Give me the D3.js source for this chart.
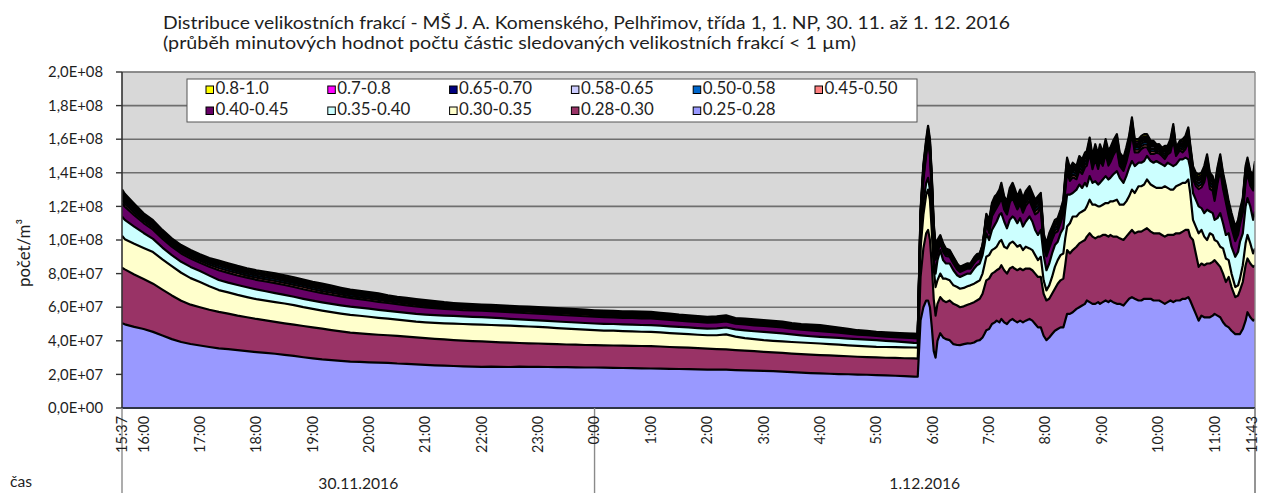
<!DOCTYPE html>
<html>
<head>
<meta charset="utf-8">
<script src="https://cdn.jsdelivr.net/npm/d3@7"></script>
<style>
  html, body { margin: 0; padding: 0; background: #ffffff; }
  svg { display: block; font-family: Lato, "Open Sans", "DejaVu Sans", sans-serif; }
</style>
</head>
<body>
<svg id="chart" width="1261" height="493"></svg>
<script>
// Measurement times (10-minute steps overnight, denser sampling in the morning)
const times = [
  "15:37","15:40","15:50",
  "16:00","16:10","16:20","16:30","16:40","16:50",
  "17:00","17:10","17:20","17:30","17:40","17:50",
  "18:00","18:10","18:20","18:30","18:40","18:50",
  "19:00","19:10","19:20","19:30","19:40","19:50",
  "20:00","20:10","20:20","20:30","20:40","20:50",
  "21:00","21:10","21:20","21:30","21:40","21:50",
  "22:00","22:10","22:20","22:30","22:40","22:50",
  "23:00","23:10","23:20","23:30","23:40","23:50",
  "0:00","0:10","0:20","0:30","0:40","0:50",
  "1:00","1:10","1:20","1:30","1:40","1:50",
  "2:00","2:10","2:20","2:30","2:40","2:50",
  "3:00","3:10","3:20","3:30","3:40","3:50",
  "4:00","4:10","4:20","4:30","4:40","4:50",
  "5:00","5:10","5:20","5:30","5:40",
  "5:44","5:47","5:50","5:53","5:55","5:57","5:59","6:01","6:03","6:05",
  "6:08","6:11","6:14","6:18","6:22","6:26","6:29","6:33","6:37","6:40",
  "6:44","6:47","6:50","6:53","6:55","6:57","7:00","7:03","7:06","7:08",
  "7:11","7:13","7:16","7:19","7:22","7:25","7:27","7:30","7:33","7:36",
  "7:39","7:43","7:46","7:49","7:52","7:55","7:58","8:01","8:04","8:07",
  "8:10","8:13","8:16","8:19","8:21","8:23","8:26","8:29","8:33","8:36",
  "8:39","8:42","8:44","8:47","8:50","8:53","8:56","8:58","9:01","9:04",
  "9:07","9:09","9:12","9:16","9:19","9:23","9:26","9:29","9:32","9:35",
  "9:39","9:42","9:45","9:48","9:52","9:55","9:58","10:01","10:04","10:07",
  "10:10","10:13","10:16","10:19","10:23","10:26","10:29","10:32","10:34","10:37",
  "10:40","10:43","10:46","10:49","10:52","10:55","10:58","11:00","11:03","11:06",
  "11:09","11:12","11:15","11:18","11:22","11:25","11:27","11:30","11:33","11:35",
  "11:38","11:41","11:43"
];

// Particle counts per size fraction, in millions per m³
const f_025_028 = [
  50.5,49.8,48.3,47.0,45.3,43.2,41.0,39.3,38.1,37.2,
  36.3,35.5,35.0,34.4,33.8,33.3,32.8,32.3,31.6,31.0,
  30.2,29.5,28.9,28.5,28.0,27.6,27.4,27.2,27.0,26.9,
  26.5,26.3,26.0,25.7,25.4,25.2,25.0,24.8,24.6,24.5,
  24.6,24.5,24.4,24.6,24.5,24.5,24.4,24.3,24.3,24.2,
  24.1,24.1,24.0,23.9,23.8,23.7,23.6,23.5,23.4,23.3,
  23.2,23.1,23.0,22.9,22.8,22.8,22.6,22.4,22.3,22.1,
  21.9,21.6,21.3,21.0,20.8,20.6,20.4,20.2,20.1,19.9,
  19.8,19.6,19.4,19.2,19.0,18.7,
  18.6,52,60,64,64,60,48,34,30,40,
  44.5,42,41,40.4,38,37.5,37.4,38,38.5,38.4,
  39,40,40.4,42,44,46.3,47,50,51,52,
  51,53,51,50,52,53,52,51,52,51,
  52,53,52,50,48,48,43,40.4,42,44,
  46,47,48,48,52,56,56,57,59,60,
  61,62,64,63,62,62,63,62,63,64,
  63,64,63,62,62,61,63,65,66,65,
  64,64,65,65,65,64,64,64,63,62,
  63,64,63,64,64,65,65,66,64,60,
  56,52,55,54,54,54,55,56,55,54,
  51,49,48,46,44,44,44,47,52,57,
  54,52,53
];
const f_028_030 = [
  33.0,32.7,31.2,29.8,28.7,27.3,26.0,24.5,23.4,22.8,
  22.2,21.7,21.2,20.6,20.2,19.7,19.4,19.0,18.8,18.6,
  18.6,18.5,18.3,17.9,17.6,17.3,17.0,16.8,16.6,16.4,
  16.4,16.2,16.0,15.9,15.8,15.6,15.4,15.3,15.2,15.1,
  14.8,14.6,14.5,14.1,14.0,13.9,13.8,13.7,13.5,13.5,
  13.4,13.3,13.3,13.3,13.3,13.3,13.3,13.3,13.2,13.0,
  12.9,12.8,12.6,12.5,12.3,12.1,11.9,11.7,11.5,11.3,
  11.2,11.2,11.1,11.1,11.0,10.9,10.9,10.8,10.7,10.6,
  10.5,10.5,10.5,10.6,10.6,10.8,
  10.8,26,35,40,42,40,37,31,25,22,
  21.5,22,22,23.6,24,23.5,22.6,22.5,23,23.7,
  24,24,24.6,26,28,29.7,30,30,30,30,
  32,32,31,30,31,31,31,31,31,31,
  31,30,30,30,30,30,25,23.6,23,24,
  25,27,28,29,33,38,36,37,37,38,
  38,38,38,41,40,39,39,40,40,39,
  39,39,39,40,39,39,39,39,40,39,
  41,41,41,42,40,40,40,40,40,40,
  40,39,40,40,40,40,41,40,38,40,
  36,32,31,31,32,32,32,32,31,30,
  29,26,30,26,22,23,26,28,33,32,
  32,32,32
];
const f_030_035 = [
  19.0,18.0,18.3,18.5,18.8,18.0,17.5,16.7,15.8,15.0,
  14.0,13.0,12.6,12.3,12.0,11.8,11.7,11.7,11.8,11.6,
  11.2,11.0,10.8,10.7,10.6,10.5,10.5,10.3,10.1,9.9,
  9.7,9.5,9.4,9.4,9.5,9.6,9.8,9.9,10.0,10.0,
  10.0,10.1,10.1,10.0,10.0,9.9,9.8,9.6,9.5,9.3,
  9.1,8.9,8.8,8.8,8.7,8.6,8.5,8.5,8.4,8.3,
  8.2,8.1,8.0,7.9,8.2,8.9,8.0,7.5,7.2,7.0,
  6.9,6.9,6.9,6.9,6.9,6.9,6.7,6.7,6.5,6.5,
  6.4,6.3,6.4,6.4,6.5,6.5,
  6.5,17,20,23,24,24,20,18,17,14,
  14,13,14,12,11,11,11,11,11,10.9,
  11,11,11,12,13,14,14,14,14,14,
  16,15,14,15,15,15,15,14,14,12,
  13,12,12,11,10,12,8,6,8,10,
  13,14,15,15,16,14,18,20,18,18,
  18,18,18,20,19,20,18,18,18,19,
  20,20,21,22,20,21,21,22,24,24,
  27,27,27,29,28,28,27,27,28,30,
  28,27,27,28,29,29,28,30,26,12,
  16,20,20,17,14,18,16,12,13,12,
  15,14,10,8,6,6,7,10,13,14,
  12,8,10
];
const f_035_040 = [
  11.5,11.5,10.2,8.9,7.9,7.0,6.5,6.5,6.7,6.5,
  6.3,6.0,5.8,5.9,5.9,5.8,5.6,5.4,5.1,5.0,
  5.0,4.9,4.9,4.9,4.9,4.9,4.8,4.8,4.7,4.6,
  4.6,4.6,4.6,4.6,4.6,4.6,4.6,4.5,4.5,4.5,
  4.4,4.3,4.1,4.1,4.0,3.9,3.9,3.9,3.9,3.9,
  4.0,4.0,4.0,4.0,4.0,4.0,4.0,4.0,4.0,4.0,
  4.0,4.0,4.0,4.0,4.1,4.1,4.3,4.6,4.7,4.9,
  4.9,4.7,4.5,4.2,4.0,3.9,4.0,4.0,4.0,4.0,
  4.0,4.0,3.7,3.4,3.1,2.8,
  2.8,5,7,7,7,6,7,7,8,12,
  14,11,9,10,9,7,7,7.5,7.5,6.9,
  9,10,10,11,12,14,9,12,14,15,
  16,16,15,12,14,15,15,14,16,14,
  15,19,17,15,15,16,15,12,13,14,
  13,11,13,15,17,19,17,14,16,17,
  14,16,12,14,13,14,13,14,15,16,
  14,14,16,17,16,13,15,17,17,16,
  14,14,14,14,14,14,16,15,14,12,
  15,15,14,13,15,14,15,12,15,16,
  16,16,13,14,18,13,13,12,14,20,
  15,14,16,16,18,20,22,19,22,22,
  22,20,22
];
const f_040_045 = [
  8.0,7.8,6.8,5.9,5.5,5.3,5.0,5.0,5.0,5.0,
  5.3,5.8,5.8,5.7,5.7,5.7,5.8,5.9,5.9,5.8,
  5.7,5.6,5.5,5.4,5.3,5.2,5.1,4.9,4.8,4.7,
  4.6,4.5,4.4,4.3,4.2,4.0,3.9,3.8,3.8,3.8,
  3.8,3.8,3.9,3.9,3.9,4.0,4.0,4.0,4.0,4.0,
  4.0,4.0,4.0,3.9,3.9,4.0,4.0,4.0,3.9,3.8,
  3.7,3.6,3.6,3.5,3.5,3.6,3.4,3.5,3.5,3.5,
  3.5,3.5,3.4,3.4,3.5,3.5,3.3,3.1,2.9,2.7,
  2.6,2.5,2.5,2.6,2.7,2.8,
  2.8,9.3,13.5,16.5,21.5,20.5,16.5,11.3,8.3,4.2,
  4.5,5.0,4.5,4.0,4.0,3.5,3.0,3.0,3.0,3.0,
  3.3,3.3,3.0,3.0,4.5,5.8,4.2,8.2,8.3,8.2,
  7.2,9.3,7.2,8.2,10.3,11.3,9.3,8.2,8.3,8.3,
  9.3,9.3,8.3,9.3,13.5,13.3,5.2,8.2,9.3,8.2,
  7.2,6.2,6.2,8.3,11.3,13.3,8.2,9.3,6.2,8.3,
  8.3,9.3,12.3,13.5,8.2,13.3,9.3,13.5,8.2,13.3,
  8.3,9.3,11.3,13.3,7.2,7.2,8.3,10.3,16.5,8.2,
  6.2,8.2,8.2,5.2,4.2,5.2,5.0,5.5,5.0,4.2,
  5.0,7.2,15.5,5.0,5.5,4.2,5.2,10.3,6.2,8.2,
  8.2,10.3,12.3,18.5,23.5,13.5,13.3,11.3,20.5,25.5,
  20.5,19.5,10.3,11.3,9.3,10.3,10.3,12.3,14.5,14.5,
  12.3,17.5,20.5
];
const f_045_050 = [
  1.8,1.7,1.5,1.3,1.2,1.2,1.1,1.1,1.1,1.1,
  1.2,1.3,1.3,1.3,1.2,1.3,1.3,1.3,1.3,1.3,
  1.3,1.2,1.2,1.2,1.2,1.1,1.1,1.1,1.1,1.0,
  1.0,1.0,1.0,0.9,0.9,0.9,0.8,0.8,0.8,0.8,
  0.8,0.8,0.8,0.8,0.9,0.9,0.9,0.9,0.9,0.9,
  0.9,0.9,0.9,0.9,0.9,0.9,0.9,0.9,0.8,0.8,
  0.8,0.8,0.8,0.8,0.8,0.8,0.7,0.8,0.8,0.8,
  0.8,0.8,0.7,0.7,0.8,0.8,0.7,0.7,0.6,0.6,
  0.6,0.5,0.5,0.6,0.6,0.6,
  0.6,1.8,2.0,2.0,2.0,2.0,2.0,1.8,1.8,1.6,
  1.0,1.1,1.0,0.9,0.9,0.8,0.7,0.7,0.7,0.7,
  0.7,0.7,0.7,0.7,1.0,1.3,1.6,1.6,1.8,1.6,
  1.6,1.8,1.6,1.6,1.8,1.8,1.8,1.6,1.8,1.8,
  1.8,1.8,1.8,1.8,2.0,1.8,1.6,1.6,1.8,1.6,
  1.6,1.6,1.6,1.8,1.8,1.8,1.6,1.8,1.6,1.8,
  1.8,1.8,1.8,2.0,1.6,1.8,1.8,2.0,1.6,1.8,
  1.8,1.8,1.8,1.8,1.6,1.6,1.8,1.8,2.0,1.6,
  1.6,1.6,1.6,1.6,1.6,1.6,1.1,1.2,1.1,1.6,
  1.1,1.6,2.0,1.1,1.2,1.6,1.6,1.8,1.6,1.6,
  1.6,1.8,1.8,2.0,2.0,2.0,1.8,1.8,2.0,2.0,
  2.0,2.0,1.8,1.8,1.8,1.8,1.8,1.8,2.0,2.0,
  1.8,2.0,2.0
];
const f_050_058 = [
  1.6,1.6,1.4,1.2,1.1,1.1,1.0,1.0,1.0,1.0,
  1.1,1.2,1.2,1.1,1.1,1.1,1.2,1.2,1.2,1.2,
  1.1,1.1,1.1,1.1,1.1,1.0,1.0,1.0,1.0,0.9,
  0.9,0.9,0.9,0.9,0.8,0.8,0.8,0.8,0.8,0.8,
  0.8,0.8,0.8,0.8,0.8,0.8,0.8,0.8,0.8,0.8,
  0.8,0.8,0.8,0.8,0.8,0.8,0.8,0.8,0.8,0.8,
  0.7,0.7,0.7,0.7,0.7,0.7,0.7,0.7,0.7,0.7,
  0.7,0.7,0.7,0.7,0.7,0.7,0.7,0.6,0.6,0.5,
  0.5,0.5,0.5,0.5,0.5,0.6,
  0.6,1.7,1.9,1.9,1.9,1.9,1.9,1.7,1.7,1.5,
  0.9,1.0,0.9,0.8,0.8,0.7,0.6,0.6,0.6,0.6,
  0.7,0.7,0.6,0.6,0.9,1.2,1.5,1.5,1.7,1.5,
  1.5,1.7,1.5,1.5,1.7,1.7,1.7,1.5,1.7,1.7,
  1.7,1.7,1.7,1.7,1.9,1.7,1.5,1.5,1.7,1.5,
  1.5,1.5,1.5,1.7,1.7,1.7,1.5,1.7,1.5,1.7,
  1.7,1.7,1.7,1.9,1.5,1.7,1.7,1.9,1.5,1.7,
  1.7,1.7,1.7,1.7,1.5,1.5,1.7,1.7,1.9,1.5,
  1.5,1.5,1.5,1.5,1.5,1.5,1.0,1.1,1.0,1.5,
  1.0,1.5,1.9,1.0,1.1,1.5,1.5,1.7,1.5,1.5,
  1.5,1.7,1.7,1.9,1.9,1.9,1.7,1.7,1.9,1.9,
  1.9,1.9,1.7,1.7,1.7,1.7,1.7,1.7,1.9,1.9,
  1.7,1.9,1.9
];
const f_058_065 = [
  1.3,1.2,1.1,0.9,0.9,0.8,0.8,0.8,0.8,0.8,
  0.8,0.9,0.9,0.9,0.9,0.9,0.9,0.9,0.9,0.9,
  0.9,0.9,0.9,0.9,0.8,0.8,0.8,0.8,0.8,0.7,
  0.7,0.7,0.7,0.7,0.7,0.6,0.6,0.6,0.6,0.6,
  0.6,0.6,0.6,0.6,0.6,0.6,0.6,0.6,0.6,0.6,
  0.6,0.6,0.6,0.6,0.6,0.6,0.6,0.6,0.6,0.6,
  0.6,0.6,0.6,0.6,0.6,0.6,0.5,0.6,0.6,0.6,
  0.6,0.6,0.5,0.5,0.6,0.6,0.5,0.5,0.5,0.4,
  0.4,0.4,0.4,0.4,0.4,0.4,
  0.4,1.5,1.6,1.6,1.6,1.6,1.6,1.5,1.5,1.3,
  0.7,0.8,0.7,0.6,0.6,0.6,0.5,0.5,0.5,0.5,
  0.5,0.5,0.5,0.5,0.7,0.9,1.3,1.3,1.5,1.3,
  1.3,1.5,1.3,1.3,1.5,1.5,1.5,1.3,1.5,1.5,
  1.5,1.5,1.5,1.5,1.6,1.5,1.3,1.3,1.5,1.3,
  1.3,1.3,1.3,1.5,1.5,1.5,1.3,1.5,1.3,1.5,
  1.5,1.5,1.5,1.6,1.3,1.5,1.5,1.6,1.3,1.5,
  1.5,1.5,1.5,1.5,1.3,1.3,1.5,1.5,1.6,1.3,
  1.3,1.3,1.3,1.3,1.3,1.3,0.8,0.9,0.8,1.3,
  0.8,1.3,1.6,0.8,0.9,1.3,1.3,1.5,1.3,1.3,
  1.3,1.5,1.5,1.6,1.6,1.6,1.5,1.5,1.6,1.6,
  1.6,1.6,1.5,1.5,1.5,1.5,1.5,1.5,1.6,1.6,
  1.5,1.6,1.6
];
const f_065_070 = [
  1.0,0.9,0.8,0.7,0.7,0.6,0.6,0.6,0.6,0.6,
  0.6,0.7,0.7,0.7,0.7,0.7,0.7,0.7,0.7,0.7,
  0.7,0.7,0.7,0.6,0.6,0.6,0.6,0.6,0.6,0.6,
  0.5,0.5,0.5,0.5,0.5,0.5,0.5,0.5,0.4,0.4,
  0.5,0.5,0.5,0.5,0.5,0.5,0.5,0.5,0.5,0.5,
  0.5,0.5,0.5,0.5,0.5,0.5,0.5,0.5,0.5,0.5,
  0.4,0.4,0.4,0.4,0.4,0.4,0.4,0.4,0.4,0.4,
  0.4,0.4,0.4,0.4,0.4,0.4,0.4,0.4,0.3,0.3,
  0.3,0.3,0.3,0.3,0.3,0.3,
  0.3,1.1,1.2,1.2,1.2,1.2,1.2,1.1,1.1,1.0,
  0.5,0.6,0.5,0.5,0.5,0.4,0.4,0.4,0.4,0.4,
  0.4,0.4,0.4,0.4,0.5,0.7,1.0,1.0,1.1,1.0,
  1.0,1.1,1.0,1.0,1.1,1.1,1.1,1.0,1.1,1.1,
  1.1,1.1,1.1,1.1,1.2,1.1,1.0,1.0,1.1,1.0,
  1.0,1.0,1.0,1.1,1.1,1.1,1.0,1.1,1.0,1.1,
  1.1,1.1,1.1,1.2,1.0,1.1,1.1,1.2,1.0,1.1,
  1.1,1.1,1.1,1.1,1.0,1.0,1.1,1.1,1.2,1.0,
  1.0,1.0,1.0,1.0,1.0,1.0,0.6,0.7,0.6,1.0,
  0.6,1.0,1.2,0.6,0.7,1.0,1.0,1.1,1.0,1.0,
  1.0,1.1,1.1,1.2,1.2,1.2,1.1,1.1,1.2,1.2,
  1.2,1.2,1.1,1.1,1.1,1.1,1.1,1.1,1.2,1.2,
  1.1,1.2,1.2
];
const f_070_080 = [
  1.1,1.1,0.9,0.8,0.8,0.7,0.7,0.7,0.7,0.7,
  0.7,0.8,0.8,0.8,0.8,0.8,0.8,0.8,0.8,0.8,
  0.8,0.8,0.8,0.7,0.7,0.7,0.7,0.7,0.7,0.7,
  0.6,0.6,0.6,0.6,0.6,0.6,0.5,0.5,0.5,0.5,
  0.5,0.5,0.5,0.5,0.5,0.5,0.5,0.5,0.5,0.5,
  0.5,0.5,0.5,0.5,0.5,0.5,0.6,0.5,0.5,0.5,
  0.5,0.5,0.5,0.5,0.5,0.5,0.5,0.5,0.5,0.5,
  0.5,0.5,0.5,0.5,0.5,0.5,0.5,0.4,0.4,0.4,
  0.4,0.3,0.4,0.4,0.4,0.4,
  0.4,1.2,1.3,1.3,1.3,1.3,1.3,1.2,1.2,1.1,
  0.6,0.7,0.6,0.6,0.6,0.5,0.4,0.4,0.4,0.4,
  0.5,0.5,0.4,0.4,0.6,0.8,1.1,1.1,1.2,1.1,
  1.1,1.2,1.1,1.1,1.2,1.2,1.2,1.1,1.2,1.2,
  1.2,1.2,1.2,1.2,1.3,1.2,1.1,1.1,1.2,1.1,
  1.1,1.1,1.1,1.2,1.2,1.2,1.1,1.2,1.1,1.2,
  1.2,1.2,1.2,1.3,1.1,1.2,1.2,1.3,1.1,1.2,
  1.2,1.2,1.2,1.2,1.1,1.1,1.2,1.2,1.3,1.1,
  1.1,1.1,1.1,1.1,1.1,1.1,0.7,0.8,0.7,1.1,
  0.7,1.1,1.3,0.7,0.8,1.1,1.1,1.2,1.1,1.1,
  1.1,1.2,1.2,1.3,1.3,1.3,1.2,1.2,1.3,1.3,
  1.3,1.3,1.2,1.2,1.2,1.2,1.2,1.2,1.3,1.3,
  1.2,1.3,1.3
];
const f_080_100 = [
  1.3,1.2,1.1,0.9,0.9,0.8,0.8,0.8,0.8,0.8,
  0.8,0.9,0.9,0.9,0.9,0.9,0.9,0.9,0.9,0.9,
  0.9,0.9,0.9,0.9,0.8,0.8,0.8,0.8,0.8,0.7,
  0.7,0.7,0.7,0.7,0.7,0.6,0.6,0.6,0.6,0.6,
  0.6,0.6,0.6,0.6,0.6,0.6,0.6,0.6,0.6,0.6,
  0.6,0.6,0.6,0.6,0.6,0.6,0.6,0.6,0.6,0.6,
  0.6,0.6,0.5,0.5,0.6,0.6,0.5,0.5,0.6,0.5,
  0.5,0.5,0.5,0.5,0.5,0.6,0.5,0.5,0.5,0.4,
  0.4,0.4,0.4,0.4,0.4,0.4,
  0.4,1.4,1.5,1.5,1.5,1.5,1.5,1.4,1.4,1.3,
  0.7,0.8,0.7,0.6,0.6,0.6,0.5,0.5,0.5,0.5,
  0.5,0.5,0.5,0.5,0.7,0.9,1.3,1.3,1.4,1.3,
  1.3,1.4,1.3,1.3,1.4,1.4,1.4,1.3,1.4,1.4,
  1.4,1.4,1.4,1.4,1.5,1.4,1.3,1.3,1.4,1.3,
  1.3,1.3,1.3,1.4,1.4,1.4,1.3,1.4,1.3,1.4,
  1.4,1.4,1.4,1.5,1.3,1.4,1.4,1.5,1.3,1.4,
  1.4,1.4,1.4,1.4,1.3,1.3,1.4,1.4,1.5,1.3,
  1.3,1.3,1.3,1.3,1.3,1.3,0.8,0.9,0.8,1.3,
  0.8,1.3,1.5,0.8,0.9,1.3,1.3,1.4,1.3,1.3,
  1.3,1.4,1.4,1.5,1.5,1.5,1.4,1.4,1.5,1.5,
  1.5,1.5,1.4,1.4,1.4,1.4,1.4,1.4,1.5,1.5,
  1.4,1.5,1.5
];

// Size fractions in stacking order (bottom first) and their fill colours
const sizeLabels = ["0.25-0.28","0.28-0.30","0.30-0.35","0.35-0.40","0.40-0.45",
                    "0.45-0.50","0.50-0.58","0.58-0.65","0.65-0.70","0.7-0.8","0.8-1.0"];
const fillColors = ["#9999ff","#993366","#ffffcc","#ccffff","#660066",
                    "#ff8080","#0066cc","#ccccff","#000080","#ff00ff","#ffff00"];
const seriesValues = [f_025_028, f_028_030, f_030_035, f_035_040, f_040_045,
                      f_045_050, f_050_058, f_058_065, f_065_070, f_070_080, f_080_100];

// Axis labelling
const yTickValues = [0, 2e7, 4e7, 6e7, 8e7, 1e8, 1.2e8, 1.4e8, 1.6e8, 1.8e8, 2e8];
const timeTickLabels = ["15:37","16:00","17:00","18:00","19:00","20:00","21:00","22:00","23:00",
                        "0:00","1:00","2:00","3:00","4:00","5:00","6:00","7:00","8:00","9:00",
                        "10:00","11:00","11:43"];
const dayLabels = ["30.11.2016", "1.12.2016"];
const dayBounds = ["15:37", "0:00", "11:43"];
const titleLines = [
  "Distribuce velikostních frakcí - MŠ J. A. Komenského, Pelhřimov, třída 1, 1. NP, 30. 11. až 1. 12. 2016",
  "(průběh minutových hodnot počtu částic sledovaných velikostních frakcí < 1 µm)"
];
const yAxisTitle = "počet/m³";
const xAxisTitle = "čas";
const UNIT = 1e6;

// ---------------------------------------------------------------------------
const svg = d3.select("#chart");
const plot = { left: 122, right: 1255, top: 72, bottom: 408 };
const textColor = "#1e1e1e";

function toDate(s) {
  const [h, m] = s.split(":").map(Number);
  return h >= 12 ? new Date(2016, 10, 30, h, m) : new Date(2016, 11, 1, h, m);
}

// font size that gives `sample` the requested rendered width
function sizeFor(sample, target) {
  const t = svg.append("text").attr("font-size", 100).text(sample);
  const w = t.node().getComputedTextLength();
  t.remove();
  return 100 * target / w;
}

const x = d3.scaleTime()
  .domain([toDate(dayBounds[0]), toDate(dayBounds[2])])
  .range([plot.left, plot.right]);
const y = d3.scaleLinear().domain([0, 2e8]).range([plot.bottom, plot.top]);

const n = d3.min([times.length, ...seriesValues.map(a => a.length)]);
const rows = d3.range(n).map(i => {
  const r = { date: toDate(times[i]) };
  sizeLabels.forEach((k, j) => { r[k] = seriesValues[j][i] * UNIT; });
  return r;
});
const stacked = d3.stack().keys(sizeLabels)(rows);

// plot background
svg.append("rect")
  .attr("x", plot.left).attr("y", plot.top)
  .attr("width", plot.right - plot.left).attr("height", plot.bottom - plot.top)
  .attr("fill", "#d8d8d8");

// horizontal gridlines
svg.append("g").selectAll("line")
  .data(yTickValues.filter(v => v > 0))
  .join("line")
  .attr("x1", plot.left).attr("x2", plot.right)
  .attr("y1", d => y(d)).attr("y2", d => y(d))
  .attr("stroke", "#6e6e6e").attr("stroke-width", 1.6);

svg.append("defs").append("clipPath").attr("id", "plotClip")
  .append("rect")
  .attr("x", plot.left).attr("y", plot.top)
  .attr("width", plot.right - plot.left).attr("height", plot.bottom - plot.top);

const area = d3.area()
  .x(d => x(d.data.date))
  .y0(d => y(d[0]))
  .y1(d => y(d[1]));
const edge = d3.line()
  .x(d => x(d.data.date))
  .y(d => y(d[1]));

const layers = svg.append("g").attr("clip-path", "url(#plotClip)");
layers.selectAll("path.band")
  .data(stacked)
  .join("path")
  .attr("class", "band")
  .attr("fill", (d, i) => fillColors[i])
  .attr("d", area);
layers.selectAll("path.edge")
  .data(stacked)
  .join("path")
  .attr("class", "edge")
  .attr("fill", "none")
  .attr("stroke", "#000")
  .attr("stroke-width", 2.2)
  .attr("stroke-linejoin", "round")
  .attr("d", edge);

// plot frame
svg.append("line").attr("x1", plot.left).attr("x2", plot.right)
  .attr("y1", plot.top).attr("y2", plot.top)
  .attr("stroke", "#8a8a8a").attr("stroke-width", 1.2);
svg.append("line").attr("x1", plot.right).attr("x2", plot.right)
  .attr("y1", plot.top).attr("y2", 493)
  .attr("stroke", "#8a8a8a").attr("stroke-width", 1.4);

// y axis
const yAxisG = svg.append("g");
yAxisG.append("line")
  .attr("x1", plot.left).attr("x2", plot.left)
  .attr("y1", plot.top).attr("y2", plot.bottom)
  .attr("stroke", "#333").attr("stroke-width", 1.6);
yAxisG.selectAll("line.tick")
  .data(yTickValues)
  .join("line")
  .attr("class", "tick")
  .attr("x1", plot.left - 6).attr("x2", plot.left)
  .attr("y1", d => y(d)).attr("y2", d => y(d))
  .attr("stroke", "#333").attr("stroke-width", 1.4);

function sciLabel(v) {
  const [m, e] = v.toExponential(1).split("e");
  const ex = Math.abs(+e);
  return m.replace(".", ",") + "E" + (+e < 0 ? "-" : "+") + String(ex).padStart(2, "0");
}
const yFont = sizeFor("2,0E+08", 55);
yAxisG.selectAll("text")
  .data(yTickValues)
  .join("text")
  .attr("x", plot.left - 19)
  .attr("y", d => y(d))
  .attr("dy", "0.35em")
  .attr("text-anchor", "end")
  .attr("font-size", yFont)
  .attr("fill", textColor)
  .text(sciLabel);

// x axis
svg.append("line")
  .attr("x1", plot.left).attr("x2", plot.right)
  .attr("y1", plot.bottom).attr("y2", plot.bottom)
  .attr("stroke", "#2e3445").attr("stroke-width", 2);

// day separators below the axis
svg.append("g").selectAll("line")
  .data(dayBounds)
  .join("line")
  .attr("x1", d => x(toDate(d))).attr("x2", d => x(toDate(d)))
  .attr("y1", plot.bottom).attr("y2", 493)
  .attr("stroke", "#8a8a8a").attr("stroke-width", 1.4);

// rotated time labels; the last one is kept just inside the canvas edge
const xFont = sizeFor("16:00", 37);
svg.append("g").selectAll("text")
  .data(timeTickLabels)
  .join("text")
  .attr("transform", d => `translate(${Math.min(x(toDate(d)), plot.right - 3)},${plot.bottom + 8}) rotate(-90)`)
  .attr("dy", "0.34em")
  .attr("text-anchor", "end")
  .attr("font-size", xFont)
  .attr("fill", textColor)
  .text(d => d);

const dayFont = sizeFor("30.11.2016", 80);
svg.append("g").selectAll("text")
  .data(dayLabels)
  .join("text")
  .attr("x", (d, i) => (x(toDate(dayBounds[i])) + x(toDate(dayBounds[i + 1]))) / 2)
  .attr("y", 489)
  .attr("text-anchor", "middle")
  .attr("font-size", dayFont)
  .attr("fill", textColor)
  .text(d => d);

svg.append("text")
  .attr("x", 10).attr("y", 487)
  .attr("font-size", dayFont)
  .attr("fill", textColor)
  .text(xAxisTitle);

svg.append("text")
  .attr("transform", `translate(30,253) rotate(-90)`)
  .attr("text-anchor", "middle")
  .attr("font-size", sizeFor(yAxisTitle, 68))
  .attr("fill", textColor)
  .text(yAxisTitle);

// title: two left-aligned lines, stretched to the widths of the chart header
const titleTargets = [847, 693];
titleLines.forEach((line, i) => {
  svg.append("text")
    .attr("x", 163).attr("y", i === 0 ? 29 : 49)
    .attr("font-size", 16.5)
    .attr("textLength", titleTargets[i])
    .attr("lengthAdjust", "spacingAndGlyphs")
    .attr("fill", textColor)
    .text(line);
});

// legend
const legendOrder = sizeLabels.map((k, i) => ({ key: k, color: fillColors[i] })).reverse();
const legend = svg.append("g");
legend.append("rect")
  .attr("x", 187).attr("y", 79).attr("width", 730).attr("height", 43)
  .attr("fill", "#fff").attr("stroke", "#555").attr("stroke-width", 1);
const legFont = sizeFor("0.40-0.45", 73);
const item = legend.selectAll("g.item")
  .data(legendOrder)
  .join("g")
  .attr("class", "item")
  .attr("transform", (d, i) => `translate(${206 + (i % 6) * 121.8},${86 + Math.floor(i / 6) * 21})`);
item.append("rect")
  .attr("width", 7.5).attr("height", 7.5)
  .attr("fill", d => d.color)
  .attr("stroke", "#000").attr("stroke-width", 1);
item.append("text")
  .attr("x", 9.5).attr("y", 8.3)
  .attr("font-size", legFont)
  .attr("fill", textColor)
  .text(d => d.key);
</script>
</body>
</html>
